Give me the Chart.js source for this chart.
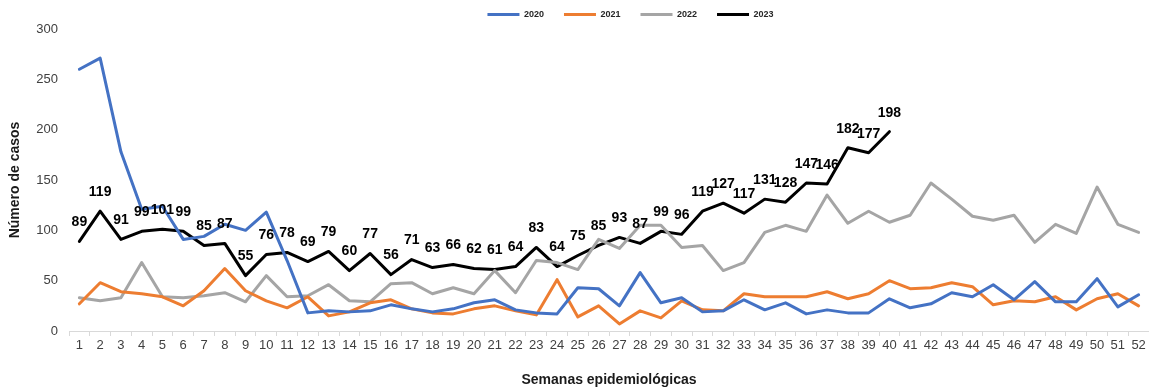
<!DOCTYPE html>
<html>
<head>
<meta charset="utf-8">
<script src="https://cdn.jsdelivr.net/npm/chart.js@4/dist/chart.umd.min.js"></script>
<style>
  html, body { margin: 0; padding: 0; background: #fff; }
  #wrap { width: 1149px; height: 389px; }
</style>
</head>
<body>
<div id="wrap"><canvas id="casos" width="1149" height="389"></canvas></div>
<script>
// semanas epidemiológicas 1..52
const semanas = Array.from({ length: 52 }, (_, i) => String(i + 1));

const casos2020 = [260, 271, 178, 121, 124, 91, 94, 106, 100, 118, 70, 18, 20, 19, 20, 26, 22, 19, 22, 28,
  31, 21, 18, 17, 43, 42, 25, 58, 28, 33, 19, 20, 31, 21, 28, 17, 21, 18, 18, 32,
  23, 27, 38, 34, 46, 31, 49, 29, 29, 52, 24, 36];
const casos2021 = [27, 48, 39, 37, 34, 25, 40, 62, 40, 30, 23, 34, 15, 19, 28, 31, 22, 18, 17, 22,
  25, 20, 16, 51, 14, 25, 7, 20, 13, 30, 21, 20, 37, 34, 34, 34, 39, 32, 37, 50,
  42, 43, 48, 44, 26, 30, 29, 34, 21, 32, 37, 25];
const casos2022 = [33, 30, 33, 68, 34, 33, 35, 38, 29, 55, 34, 35, 46, 30, 29, 47, 48, 37, 43, 37,
  60, 38, 70, 68, 61, 91, 82, 105, 105, 83, 85, 60, 68, 98, 105, 99, 135, 107, 119, 108,
  115, 147, 131, 114, 110, 115, 88, 106, 97, 143, 106, 98];
const casos2023 = [89, 119, 91, 99, 101, 99, 85, 87, 55, 76, 78, 69, 79, 60, 77, 56, 71, 63, 66, 62,
  61, 64, 83, 64, 75, 85, 93, 87, 99, 96, 119, 127, 117, 131, 128, 147, 146, 182, 177, 198];

const fontFam = '"Liberation Sans", Arial, sans-serif';

// value labels over the 2023 line
const etiquetas2023 = {
  id: 'etiquetas2023',
  afterDatasetsDraw(chart) {
    const meta = chart.getDatasetMeta(3);
    const ctx = chart.ctx;
    ctx.save();
    ctx.font = 'bold 14px ' + fontFam;
    ctx.fillStyle = '#000';
    ctx.textAlign = 'center';
    ctx.textBaseline = 'middle';
    meta.data.forEach((pt, i) => {
      const v = casos2023[i];
      if (v == null) return;
      ctx.fillText(String(v), pt.x, pt.y - 19);
    });
    ctx.restore();
  }
};

// legend sits a bit right of the canvas centre
const leyendaDesplazada = {
  id: 'leyendaDesplazada',
  afterLayout(chart) {
    const lg = chart.legend;
    if (!lg) return;
    lg.left += 56;
    lg.right += 56;
  }
};

function serie(label, data, color) {
  return {
    label,
    data,
    borderColor: color,
    backgroundColor: color,
    borderWidth: 3,
    pointRadius: 0,
    pointHoverRadius: 0,
    tension: 0,
    borderJoinStyle: 'round',
    borderCapStyle: 'round'
  };
}

new Chart(document.getElementById('casos'), {
  type: 'line',
  data: {
    labels: semanas,
    datasets: [
      serie('2020', casos2020, '#4472C4'),
      serie('2021', casos2021, '#ED7D31'),
      serie('2022', casos2022, '#A5A5A5'),
      serie('2023', casos2023, '#000000')
    ]
  },
  options: {
    responsive: false,
    maintainAspectRatio: false,
    animation: false,
    devicePixelRatio: 1,
    layout: { padding: { top: -10, right: 0, bottom: 0, left: 0 } },
    plugins: {
      legend: {
        position: 'top',
        maxHeight: 40,
        labels: {
          usePointStyle: true,
          pointStyle: 'line',
          pointStyleWidth: 32,
          padding: 20,
          color: '#262626',
          font: { family: fontFam, size: 9, weight: 'bold' }
        }
      },
      tooltip: { enabled: false }
    },
    scales: {
      x: {
        offset: true,
        afterFit(scale) { scale.height = 58; },
        grid: { offset: true, drawOnChartArea: false, drawTicks: true, tickLength: 5, color: '#D9D9D9' },
        border: { display: true, color: '#D9D9D9', width: 1 },
        ticks: {
          autoSkip: false,
          maxRotation: 0,
          padding: 2,
          color: '#404040',
          font: { family: fontFam, size: 13 }
        },
        title: {
          display: true,
          text: 'Semanas epidemiológicas',
          color: '#1a1a1a',
          padding: { top: 0, bottom: 0 },
          font: { family: fontFam, size: 14, weight: 'bold' }
        }
      },
      y: {
        min: 0,
        max: 300,
        afterFit(scale) { scale.width = 69; },
        grid: { display: false, drawTicks: false },
        border: { display: false },
        ticks: {
          stepSize: 50,
          padding: 11,
          color: '#404040',
          font: { family: fontFam, size: 13 }
        },
        title: {
          display: true,
          text: 'Número de casos',
          color: '#1a1a1a',
          padding: { top: 7, bottom: 0 },
          font: { family: fontFam, size: 14, weight: 'bold' }
        }
      }
    }
  },
  plugins: [etiquetas2023, leyendaDesplazada]
});
</script>
</body>
</html>
